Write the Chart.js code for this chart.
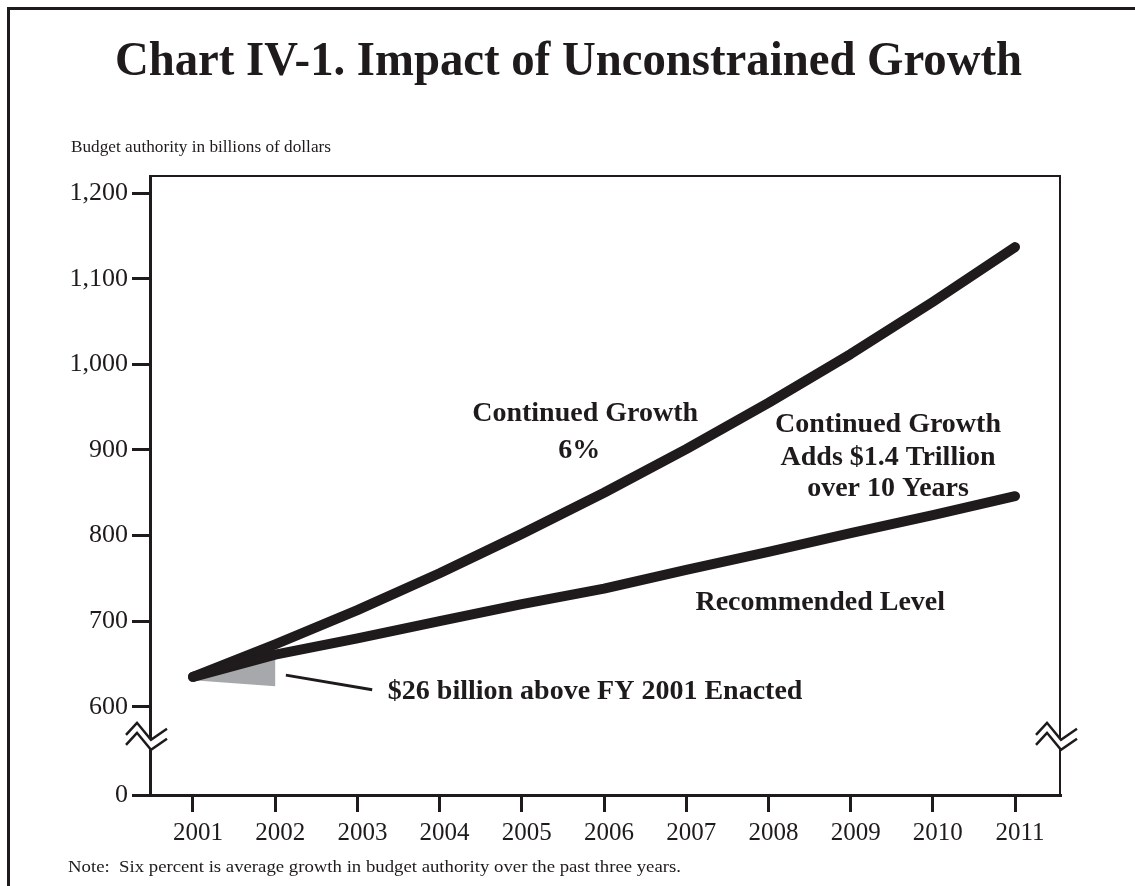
<!DOCTYPE html>
<html>
<head>
<meta charset="utf-8">
<script src="https://cdn.jsdelivr.net/npm/chart.js@4.4.0/dist/chart.umd.min.js"></script>
<style>
  html, body { margin: 0; padding: 0; background: #ffffff; }
  #wrap { width: 1135px; height: 886px; position: relative; }
</style>
</head>
<body>
<div id="wrap"><canvas id="c" width="1135" height="886"></canvas></div>
<script>
// ---- data ----
const years = [2001, 2002, 2003, 2004, 2005, 2006, 2007, 2008, 2009, 2010, 2011];
const continuedGrowth = [635, 673, 713, 756, 802, 850, 901, 955, 1012, 1073, 1137];
const recommendedLevel = [635, 661, 680, 700, 720, 738, 760, 781, 803, 824, 846];
const gapYears = [2001, 2002, 2002];
const gapValues = [631, 661, 624];
const leaderYears = [2002.13, 2003.18];
const leaderValues = [637, 620];
const yTickValues = [497, 600, 700, 800, 900, 1000, 1100, 1200];
const yTickLabels = ['0', '600', '700', '800', '900', '1,000', '1,100', '1,200'];
const breakValue = 565;

const titleText = 'Chart IV-1. Impact of Unconstrained Growth';
const unitText = 'Budget authority in billions of dollars';
const noteText = 'Note:  Six percent is average growth in budget authority over the past three years.';

const annotations = [
  { text: 'Continued Growth', x: 2005.77, y: 934 },
  { text: '6%', x: 2005.70, y: 891 },
  { text: 'Continued Growth', x: 2009.455, y: 921 },
  { text: 'Adds $1.4 Trillion', x: 2009.455, y: 883 },
  { text: 'over 10 Years', x: 2009.455, y: 846 },
  { text: 'Recommended Level', x: 2008.63, y: 713 },
  { text: '$26 billion above FY 2001 Enacted', x: 2003.37, y: 609, align: 'left' }
];

const INK = '#1f1b1c';
const SERIF = '"Liberation Serif", "Times New Roman", serif';

function toPts(xs, ys) { return xs.map((x, i) => ({ x: x, y: ys[i] })); }

function fitText(ctx, text, x, y, font, align, targetWidth) {
  ctx.save();
  ctx.font = font;
  ctx.fillStyle = INK;
  ctx.textBaseline = 'alphabetic';
  const w = ctx.measureText(text).width;
  const sx = targetWidth ? targetWidth / w : 1;
  ctx.translate(x, y);
  ctx.scale(sx, 1);
  ctx.textAlign = align;
  ctx.fillText(text, 0, 0);
  ctx.restore();
}

const decor = {
  id: 'decor',
  afterDraw(chart) {
    const ctx = chart.ctx;
    const a = chart.chartArea;
    const xs = chart.scales.x, ys = chart.scales.y;
    ctx.save();
    // outer frame (top and left)
    ctx.strokeStyle = INK;
    ctx.lineWidth = 3;
    ctx.beginPath();
    ctx.moveTo(8.5, 886);
    ctx.lineTo(8.5, 8.5);
    ctx.lineTo(1135, 8.5);
    ctx.stroke();
    // plot box top and right
    ctx.lineWidth = 2;
    ctx.beginPath();
    ctx.moveTo(a.left, a.top);
    ctx.lineTo(a.right, a.top);
    ctx.lineTo(a.right, a.bottom);
    ctx.stroke();
    // axis breaks
    const cy = ys.getPixelForValue(breakValue);
    const up = [[-24, -2], [-13, -14], [1, 3], [17, -8]];
    const gap = 10;
    [a.left, a.right].forEach(ax => {
      ctx.fillStyle = '#ffffff';
      ctx.beginPath();
      up.forEach((p, i) => { const px = ax + p[0], py = cy + p[1]; if (i === 0) ctx.moveTo(px, py); else ctx.lineTo(px, py); });
      for (let i = up.length - 1; i >= 0; i--) ctx.lineTo(ax + up[i][0], cy + up[i][1] + gap);
      ctx.closePath();
      ctx.fill();
      ctx.strokeStyle = INK;
      ctx.lineWidth = 2.5;
      ctx.lineJoin = 'miter';
      [0, gap].forEach(off => {
        ctx.beginPath();
        up.forEach((p, i) => { const px = ax + p[0], py = cy + p[1] + off; if (i === 0) ctx.moveTo(px, py); else ctx.lineTo(px, py); });
        ctx.stroke();
      });
    });
    // texts
    fitText(ctx, titleText, 568.5, 75, 'bold 49px ' + SERIF, 'center', 907);
    fitText(ctx, unitText, 71, 152, '17px ' + SERIF, 'left', 260);
    fitText(ctx, noteText, 68, 872, '17px ' + SERIF, 'left', 613);
    annotations.forEach(an => {
      fitText(ctx, an.text, xs.getPixelForValue(an.x), ys.getPixelForValue(an.y),
        'bold 28px ' + SERIF, an.align || 'center');
    });
    ctx.restore();
  }
};

new Chart(document.getElementById('c'), {
  type: 'line',
  data: {
    datasets: [
      {
        label: 'Gap',
        data: toPts(gapYears, gapValues),
        backgroundColor: '#a6a8ab',
        borderColor: 'rgba(0,0,0,0)',
        borderWidth: 0,
        fill: 'shape',
        pointRadius: 0,
        order: 3
      },
      {
        label: 'Leader',
        data: toPts(leaderYears, leaderValues),
        borderColor: INK,
        borderWidth: 3,
        pointRadius: 0,
        fill: false,
        order: 2
      },
      {
        label: 'Continued Growth 6%',
        data: toPts(years, continuedGrowth),
        borderColor: INK,
        borderWidth: 10,
        borderCapStyle: 'round',
        borderJoinStyle: 'round',
        pointRadius: 0,
        fill: false,
        tension: 0,
        order: 1
      },
      {
        label: 'Recommended Level',
        data: toPts(years, recommendedLevel),
        borderColor: INK,
        borderWidth: 10,
        borderCapStyle: 'round',
        borderJoinStyle: 'round',
        pointRadius: 0,
        fill: false,
        tension: 0,
        order: 0
      }
    ]
  },
  options: {
    responsive: false,
    animation: false,
    devicePixelRatio: 1,
    layout: { padding: { top: 176, right: 75, bottom: 0, left: 0 } },
    plugins: { legend: { display: false }, tooltip: { enabled: false }, title: { display: false } },
    scales: {
      x: {
        type: 'linear',
        min: 2000.477,
        max: 2011.547,
        afterBuildTicks: s => { s.ticks = years.map(v => ({ value: v })); },
        afterFit: s => { s.height = 91; },
        ticks: {
          callback: v => String(v),
          font: { family: SERIF, size: 25 },
          color: INK,
          padding: 6,
          labelOffset: 5,
          autoSkip: false,
          maxRotation: 0
        },
        grid: { drawOnChartArea: false, tickLength: 17, lineWidth: 3, color: INK },
        border: { display: true, width: 3, color: INK }
      },
      y: {
        type: 'linear',
        min: 497,
        max: 1220,
        afterBuildTicks: s => { s.ticks = yTickValues.map(v => ({ value: v })); },
        afterFit: s => { s.width = 150; },
        ticks: {
          callback: (v, i) => yTickLabels[i],
          font: { family: SERIF, size: 26 },
          color: INK,
          padding: 4,
          autoSkip: false
        },
        grid: { drawOnChartArea: false, tickLength: 18, lineWidth: 3, color: INK },
        border: { display: true, width: 3, color: INK }
      }
    }
  },
  plugins: [decor]
});
</script>
</body>
</html>
